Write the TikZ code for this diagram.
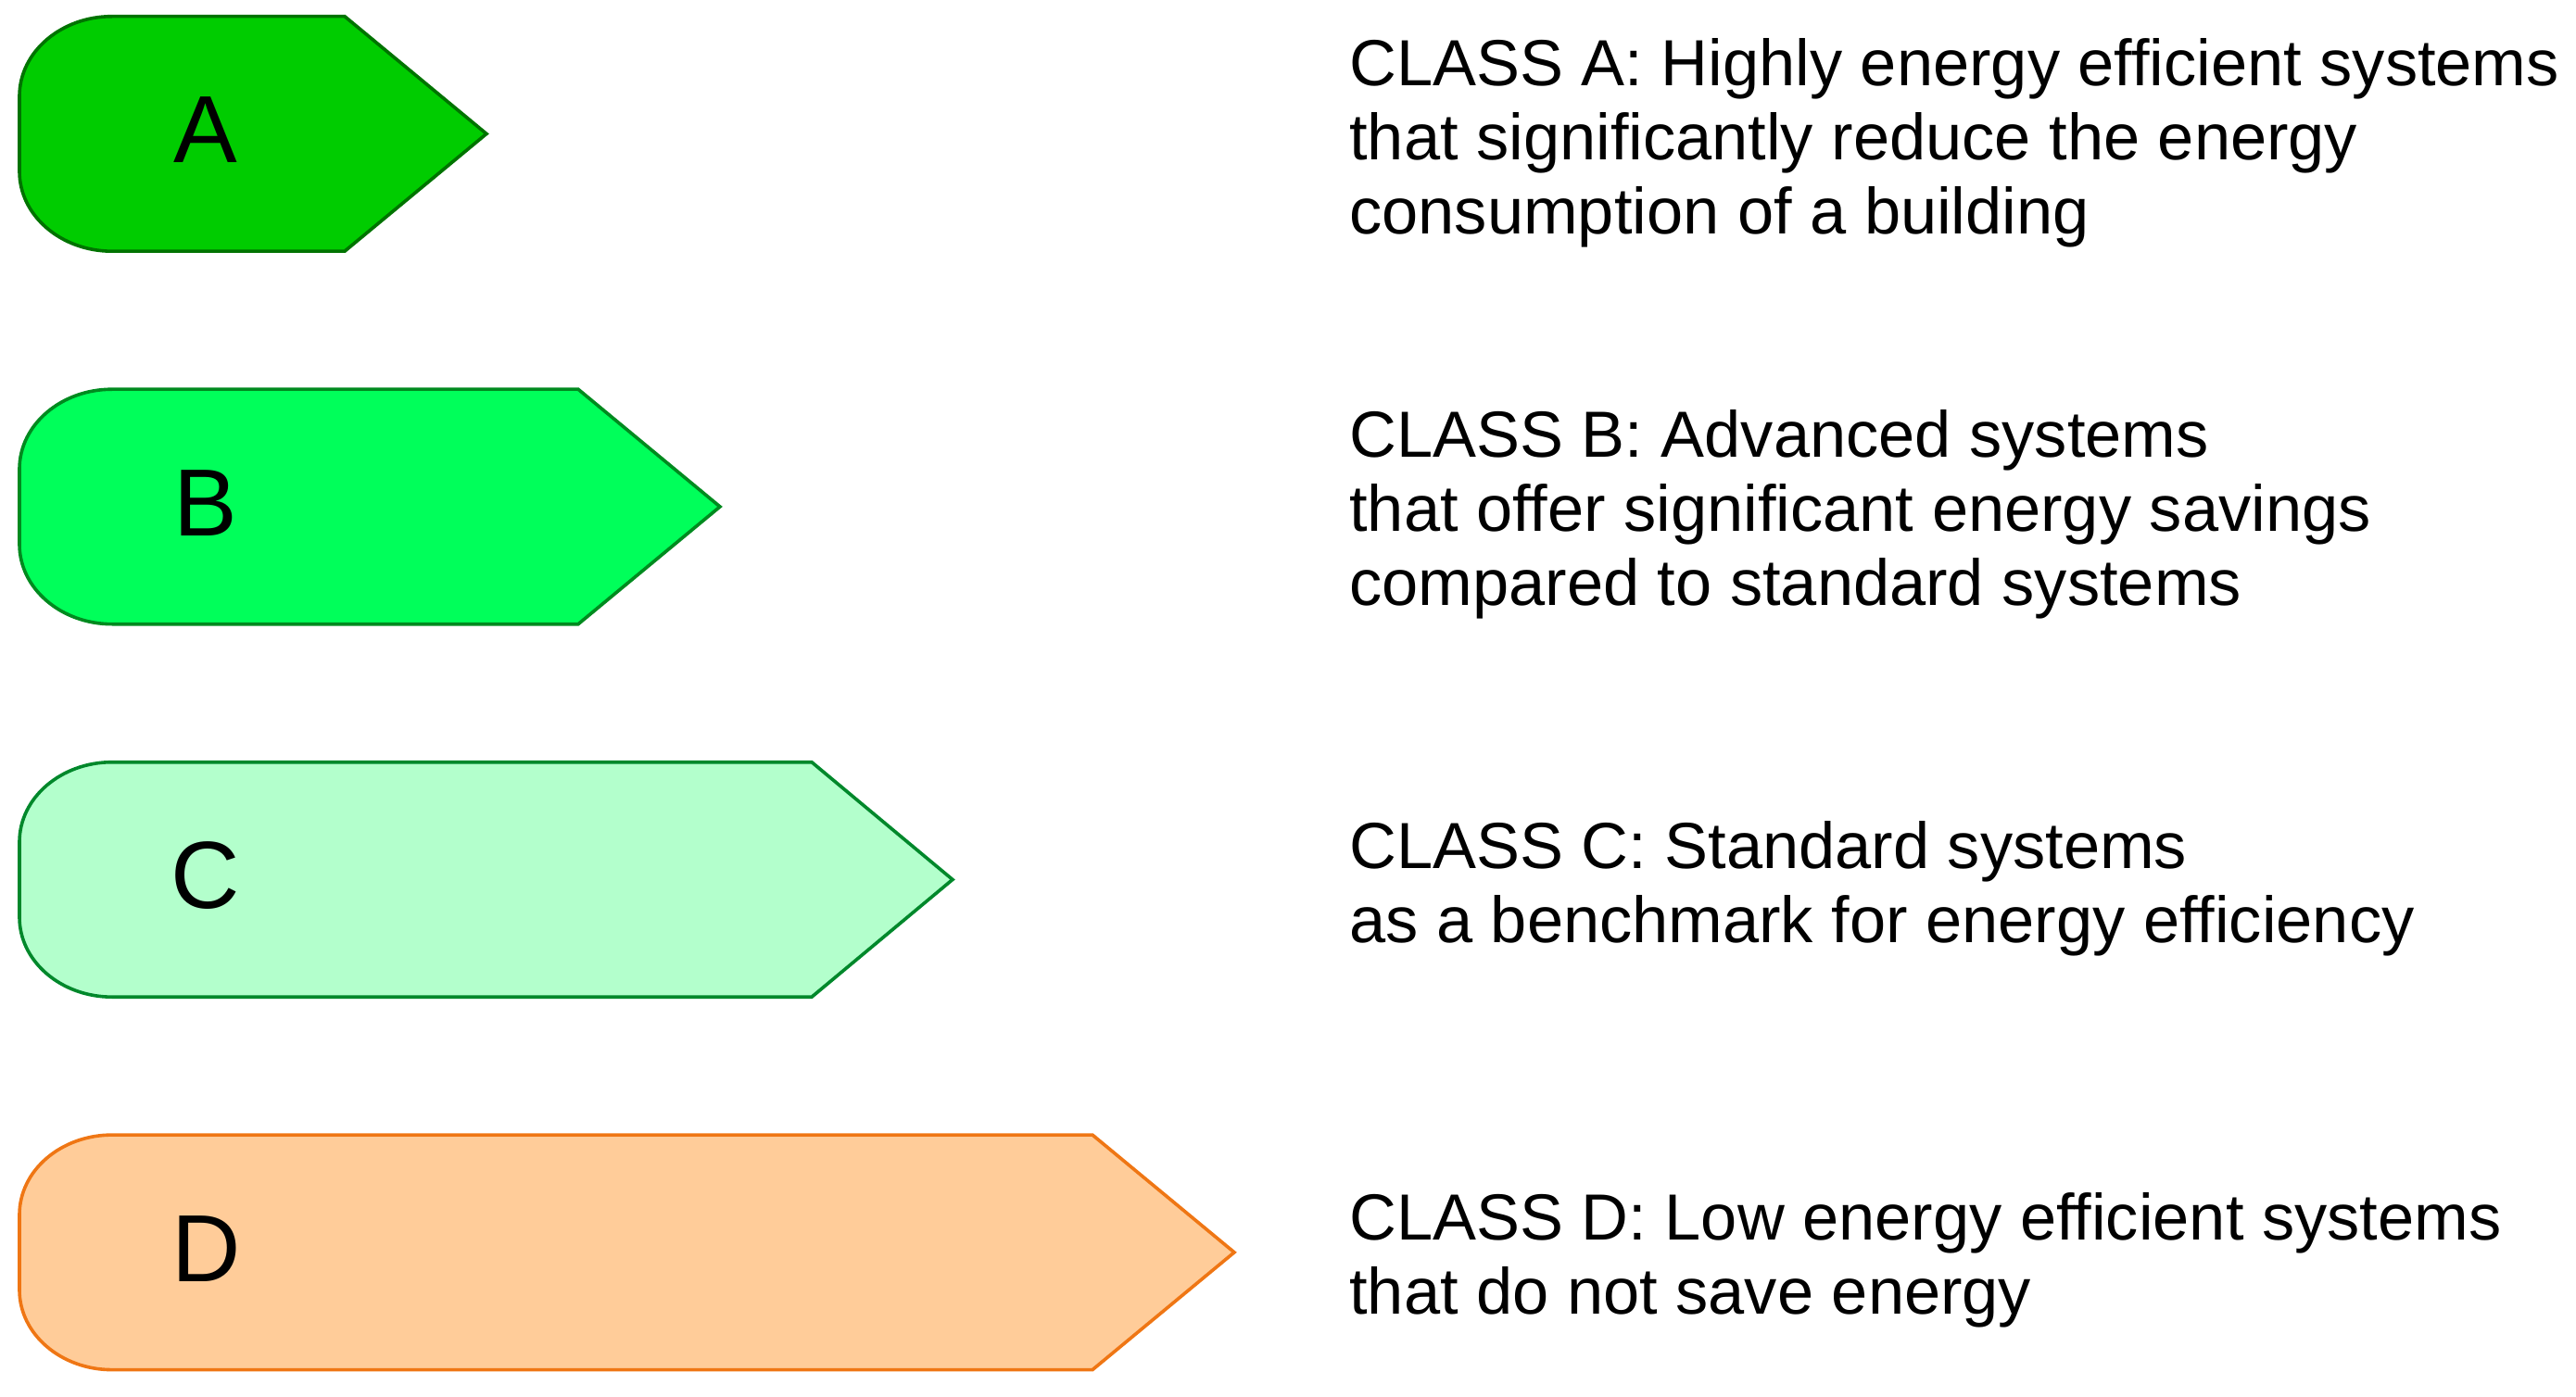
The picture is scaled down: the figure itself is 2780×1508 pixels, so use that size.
\documentclass[tikz,border=0pt]{standalone}
\usepackage{fontspec}
\setmainfont{Liberation Sans}
\definecolor{aFill}{HTML}{00CC00}
\definecolor{aLine}{HTML}{007300}
\definecolor{bFill}{HTML}{00FF5A}
\definecolor{bLine}{HTML}{008A1F}
\definecolor{cFill}{HTML}{B3FFCC}
\definecolor{cLine}{HTML}{00882B}
\definecolor{dFill}{HTML}{FFCC99}
\definecolor{dLine}{HTML}{EF7614}
\newcommand\tagshape[5]{% #1 top, #2 end of flat edge, #3 tip, #4 fill, #5 line
  \draw[tagline, fill=#4, draw=#5]
    (121,#1) -- (#2,#1) -- (#3,{#1+126.75}) -- (#2,{#1+253.5}) -- (121,{#1+253.5})
    .. controls (65.8,{#1+253.5}) and (21,{#1+214.9}) .. (21,{#1+167.5})
    -- (21,{#1+86})
    .. controls (21,{#1+38.5}) and (65.8,#1) .. (121,#1) -- cycle;}
\begin{document}
\begin{tikzpicture}[x=0.5pt,y=-0.5pt,
  tagline/.style={line width=1.8pt, line join=miter},
  letter/.style={inner sep=0pt, font=\fontsize{51.5pt}{58pt}\selectfont},
  desc/.style={anchor=north west, inner sep=0pt, align=left,
    font=\fontsize{35.2pt}{40pt}\selectfont}]
\useasboundingbox (0,0) rectangle (2780,1508);
\tagshape{17.7}{372}{525}{aFill}{aLine}
\tagshape{420.2}{624}{777}{bFill}{bLine}
\tagshape{822.7}{876}{1028}{cFill}{cLine}
\tagshape{1225.1}{1179}{1332}{dFill}{dLine}
\node[letter] (la) at (222,140.5) {A};
\node[letter] (lb) at (222,543) {B};
\node[letter] (lc) at (222,945.5) {C};
\node[letter] (ld) at (223,1348) {D};
\node[desc] (ta) at (1456,40.6) {CLASS A: Highly energy efficient systems\\that significantly reduce the energy\\consumption of a building};
\node[desc] (tb) at (1456,441.6) {CLASS B: Advanced systems\\that offer significant energy savings\\compared to standard systems};
\node[desc] (tc) at (1456,885.6) {CLASS C: Standard systems\\as a benchmark for energy efficiency};
\node[desc] (td) at (1456,1286.6) {CLASS D: Low energy efficient systems\\that do not save energy};
\end{tikzpicture}
\end{document}
